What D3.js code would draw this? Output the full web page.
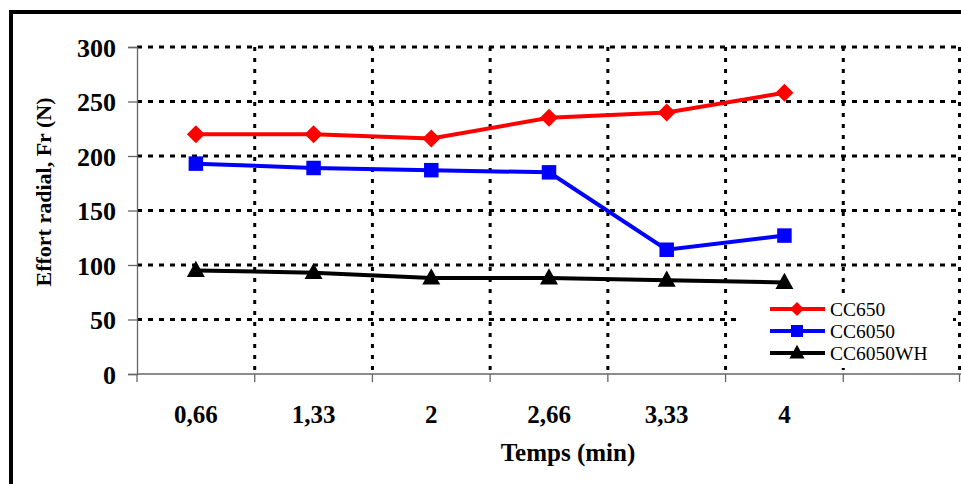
<!DOCTYPE html>
<html><head><meta charset="utf-8">
<script src="https://cdn.jsdelivr.net/npm/d3@7"></script>
<style>html,body{margin:0;padding:0;background:#fff;overflow:hidden}
text{font-family:"Liberation Serif","Tinos","Times New Roman","DejaVu Serif",serif}</style>
</head><body>
<svg id="c" width="961" height="484"></svg>
<script>
const categories = ["0,66","1,33","2","2,66","3,33","4",""];
const cc650 = [220, 220, 216, 235, 240, 258];
const cc6050 = [193, 189, 187, 185, 114, 127];
const cc6050wh = [95, 93, 88, 88, 86, 84];
const yTicks = [0,50,100,150,200,250,300];
const seriesNames = ["CC650","CC6050","CC6050WH"];
const seriesColors = ["#ff0000","#0000ff","#000000"];

const diamond = {draw(ctx,size){const r=Math.sqrt(size/2);ctx.moveTo(0,-r);ctx.lineTo(r,0);ctx.lineTo(0,r);ctx.lineTo(-r,0);ctx.closePath();}};
const triangle = {draw(ctx,size){const a=Math.sqrt(size*4/Math.sqrt(3));const h=a*0.9;ctx.moveTo(0,-h*0.6);ctx.lineTo(a/2,h*0.4);ctx.lineTo(-a/2,h*0.4);ctx.closePath();}};
const seriesSymbols = [diamond, d3.symbolSquare, triangle];

const svg = d3.select("#c");
svg.append("rect").attr("x",11).attr("y",12).attr("width",1000).attr("height",600)
  .attr("fill","none").attr("stroke","#000").attr("stroke-width",4);

const L=137, R=961, T=47, B=374;
const x = d3.scaleBand().domain(categories.map((c,i)=>i)).range([L,R]).padding(0);
const y = d3.scaleLinear().domain([0,300]).range([B,T]);

const g = svg.append("g");
g.selectAll(".hg").data(yTicks.filter(v=>v>0)).enter().append("line")
  .attr("x1",L).attr("x2",R).attr("y1",d=>y(d)).attr("y2",d=>y(d))
  .attr("stroke","#000").attr("stroke-width",3).attr("stroke-dasharray","5,6");
const bounds = d3.range(1,categories.length+1).map(i=> i<categories.length ? x(i) : R-1.5);
g.selectAll(".vg").data(bounds).enter().append("line")
  .attr("x1",d=>d).attr("x2",d=>d).attr("y1",T).attr("y2",B)
  .attr("stroke","#000").attr("stroke-width",3).attr("stroke-dasharray","4,7");

const yAxis = d3.axisLeft(y).tickValues(yTicks).tickSize(9).tickPadding(12);
const ya = svg.append("g").attr("transform",`translate(${L},0)`).call(yAxis);
ya.attr("font-family",null).attr("font-size",null);
ya.select(".domain").attr("stroke","#666").attr("stroke-width",1.3);
ya.selectAll(".tick line").attr("stroke","#666").attr("stroke-width",1.3);
ya.selectAll("text").attr("font-weight","bold").attr("font-size",26).attr("fill","#000").attr("dy","0.35em");

const xa = svg.append("g").attr("transform",`translate(0,${B})`);
xa.append("line").attr("x1",L).attr("x2",R).attr("y1",0).attr("y2",0).attr("stroke","#666").attr("stroke-width",1.3);
xa.selectAll(".xt").data([L].concat(bounds)).enter().append("line")
  .attr("x1",d=>d).attr("x2",d=>d).attr("y1",0).attr("y2",8).attr("stroke","#666").attr("stroke-width",1.3);
xa.selectAll(".xl").data(categories).enter().append("text")
  .attr("x",(d,i)=>x(i)+x.bandwidth()/2).attr("y",49).attr("text-anchor","middle")
  .attr("font-weight","bold").attr("font-size",25).text(d=>d);

svg.append("text").attr("transform",`translate(51,192) rotate(-90)`).attr("text-anchor","middle")
  .attr("font-weight","bold").attr("font-size",22).text("Effort radial, Fr (N)");
svg.append("text").attr("x",568).attr("y",461).attr("text-anchor","middle")
  .attr("font-weight","bold").attr("font-size",25).text("Temps (min)");

const allSeries = [cc650, cc6050, cc6050wh];
const line = d3.line().x((d,i)=>x(i)+x.bandwidth()/2).y(d=>y(d));
const symSizes = [162, 210, 140];
allSeries.forEach((s,k)=>{
  svg.append("path").datum(s).attr("d",line).attr("fill","none")
    .attr("stroke",seriesColors[k]).attr("stroke-width",4);
  svg.selectAll(".m"+k).data(s).enter().append("path")
    .attr("transform",(d,i)=>`translate(${x(i)+x.bandwidth()/2},${y(d)})`)
    .attr("d",d3.symbol().type(seriesSymbols[k]).size(symSizes[k]))
    .attr("fill",seriesColors[k]);
});

const lg = svg.append("g");
lg.append("rect").attr("x",737).attr("y",293).attr("width",216).attr("height",75).attr("fill","#fff");
const legSizes = [98, 144, 100];
seriesNames.forEach((n,k)=>{
  const yy = 309 + k*22;
  lg.append("line").attr("x1",770).attr("x2",825).attr("y1",yy).attr("y2",yy)
    .attr("stroke",seriesColors[k]).attr("stroke-width",4);
  lg.append("path").attr("transform",`translate(797,${yy})`)
    .attr("d",d3.symbol().type(seriesSymbols[k]).size(legSizes[k])).attr("fill",seriesColors[k]);
  lg.append("text").attr("x",830).attr("y",yy+7).attr("font-size",19.5).text(n);
});
</script>
</body></html>
